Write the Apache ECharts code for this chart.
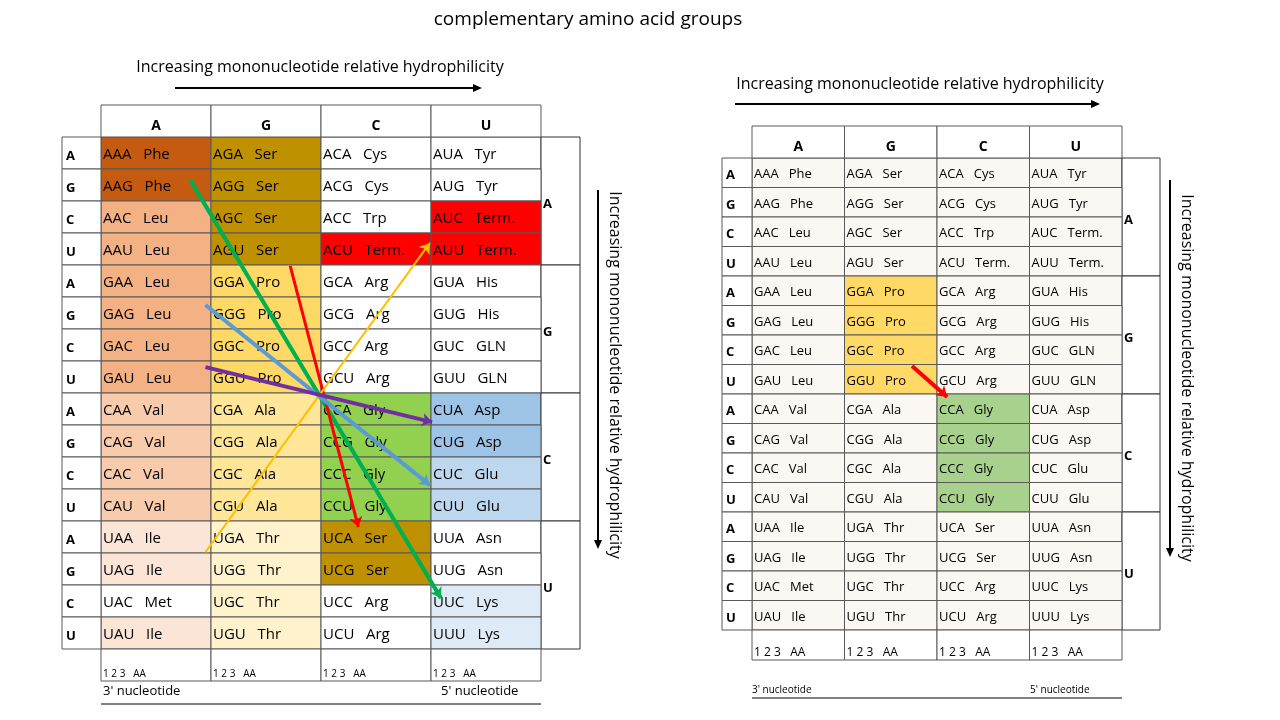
<!DOCTYPE html>
<html><head><meta charset="utf-8">
<script src="https://cdn.jsdelivr.net/npm/echarts@6/dist/echarts.min.js"></script>
<style>html,body{margin:0;background:#fff}#c{width:1280px;height:720px}</style>
</head><body><div id="c"></div>
<script>
const letters = ['A','G','C','U'];
const aminoAcids = [
  ['Phe','Phe','Leu','Leu','Leu','Leu','Leu','Leu','Val','Val','Val','Val','Ile','Ile','Met','Ile'],
  ['Ser','Ser','Ser','Ser','Pro','Pro','Pro','Pro','Ala','Ala','Ala','Ala','Thr','Thr','Thr','Thr'],
  ['Cys','Cys','Trp','Term.','Arg','Arg','Arg','Arg','Gly','Gly','Gly','Gly','Ser','Ser','Arg','Arg'],
  ['Tyr','Tyr','Term.','Term.','His','His','GLN','GLN','Asp','Asp','Glu','Glu','Asn','Asn','Lys','Lys']
];
const leftColors = [
  ['#C55A11','#C55A11','#F4B183','#F4B183','#F4B183','#F4B183','#F4B183','#F4B183','#F8CBAD','#F8CBAD','#F8CBAD','#F8CBAD','#FBE5D6','#FBE5D6','#FFFFFF','#FBE5D6'],
  ['#BF9000','#BF9000','#BF9000','#BF9000','#FFD966','#FFD966','#FFD966','#FFD966','#FFE699','#FFE699','#FFE699','#FFE699','#FFF2CC','#FFF2CC','#FFF2CC','#FFF2CC'],
  ['#FFFFFF','#FFFFFF','#FFFFFF','#FF0000','#FFFFFF','#FFFFFF','#FFFFFF','#FFFFFF','#92D050','#92D050','#92D050','#92D050','#BF9000','#BF9000','#FFFFFF','#FFFFFF'],
  ['#FFFFFF','#FFFFFF','#FF0000','#FF0000','#FFFFFF','#FFFFFF','#FFFFFF','#FFFFFF','#9DC3E6','#9DC3E6','#BDD7EE','#BDD7EE','#FFFFFF','#FFFFFF','#DEEBF7','#DEEBF7']
];
const rightBase = '#FBF7F3';
const rightHighlights = {'1,4':'#FFD966','1,5':'#FFD966','1,6':'#FFD966','1,7':'#FFD966','2,8':'#A9D18E','2,9':'#A9D18E','2,10':'#A9D18E','2,11':'#A9D18E'};
// arrows [x0,y0,x1,y1] in cell units (column, row)
const leftArrows = [
  {c:[[0.81,1.34],[3.09,14.41]], color:'#00B050', w:4},
  {c:[[1.72,4.03],[2.34,12.19]], color:'#FF0000', w:3},
  {c:[[0.95,12.97],[2.99,3.31]], color:'#FFC000', w:2},
  {c:[[0.95,5.25],[2.99,10.88]], color:'#5B9BD5', w:4},
  {c:[[0.95,7.19],[3.01,8.91]], color:'#7030A0', w:4}
];
const rightArrows = [ {c:[[1.73,7.05],[2.11,8.10]], color:'#FF0000', w:4} ];

const cells = [];
for (let c=0;c<4;c++) for (let r=0;r<16;r++) cells.push([c,r]);

function tableSeries(gi, colorFn, o) {
  return {
    type:'custom', xAxisIndex:gi, yAxisIndex:gi, clip:false, data:cells,
    renderItem:(params, api)=>{
      const c=api.value(0), r=api.value(1);
      const p0=api.coord([c,r]), p1=api.coord([c+1,r+1]);
      const w=p1[0]-p0[0], h=p1[1]-p0[1];
      const codon=letters[Math.floor(r/4)]+letters[c]+letters[r%4];
      const ch=[
        {type:'rect',shape:{x:p0[0],y:p0[1],width:w,height:h},style:{fill:colorFn(c,r),stroke:'#595959',lineWidth:1}},
        {type:'text',style:{x:p0[0]+2,y:p0[1]+h/2+2,text:codon+'   '+aminoAcids[c][r],fill:'#000',font:o.fs+'px "Open Sans"',verticalAlign:'middle'}}
      ];
      if (r===0) {
        ch.push({type:'rect',shape:{x:p0[0],y:p0[1]-o.hh,width:w,height:o.hh},style:{fill:'#fff',stroke:'#595959',lineWidth:1}});
        ch.push({type:'text',style:{x:p0[0]+w/2,y:p0[1]-o.hh/2+5,text:letters[c],fill:'#000',font:'bold 14px "Open Sans"',align:'center',verticalAlign:'middle'}});
      }
      if (r===15) {
        ch.push({type:'rect',shape:{x:p0[0],y:p1[1],width:w,height:o.fh},style:{fill:'#fff',stroke:'#595959',lineWidth:1}});
        ch.push({type:'text',style:{x:p0[0]+2,y:p1[1]+o.fh-7,text:'1 2 3   AA',fill:'#000',font:o.ff+'px "Open Sans"',verticalAlign:'middle'}});
      }
      if (c===0) {
        ch.push({type:'rect',shape:{x:p0[0]-o.sw,y:p0[1],width:o.sw,height:h},style:{fill:'#fff',stroke:'#595959',lineWidth:1}});
        ch.push({type:'text',style:{x:p0[0]-o.sw+4,y:p0[1]+h/2+3,text:letters[r%4],fill:'#000',font:'bold 13px "Open Sans"',verticalAlign:'middle'}});
      }
      if (c===3 && r%4===0) {
        const q=api.coord([4,r+4]);
        ch.push({type:'rect',shape:{x:p1[0],y:p0[1],width:o.rw,height:q[1]-p0[1]},style:{fill:'#fff',stroke:'#333',lineWidth:1}});
        ch.push({type:'text',style:{x:p1[0]+2,y:(p0[1]+q[1])/2+3,text:letters[r/4],fill:'#000',font:'bold 13px "Open Sans"',verticalAlign:'middle'}});
      }
      return {type:'group',children:ch};
    }
  };
}
function arrowSeries(gi, arr) {
  return {type:'lines', coordinateSystem:'cartesian2d', xAxisIndex:gi, yAxisIndex:gi, z:10,
    symbol:['none','arrow'], symbolSize:10,
    data:arr.map(a=>({coords:a.c, lineStyle:{color:a.color,width:a.w,opacity:1}}))};
}
const ax = (min,max,inv)=>({type:'value',min,max,inverse:inv,show:false});
const chart = echarts.init(document.getElementById('c'));
const T = (x,y,t,s,extra)=>Object.assign({type:'text',x,y,style:{text:t,font:s+'px "Open Sans"',fill:'#000',align:'center',verticalAlign:'middle'}},extra||{});
const L = (x1,y1,x2,y2,arrow)=>({type:'line',shape:{x1,y1,x2,y2},style:{stroke:'#000',lineWidth:arrow?2:1}});
const head = (x,y,dir)=>({type:'polygon',shape:{points: dir==='r'?[[x,y],[x-9,y-4],[x-9,y+4]]:[[x,y],[x-4,y-9],[x+4,y-9]]},style:{fill:'#000'}});
chart.setOption({
  animation:false,
  grid:[{left:101,top:137,width:440,height:512},{left:752,top:158,width:370,height:472}],
  xAxis:[ax(0,4,false),Object.assign(ax(0,4,false),{gridIndex:1})],
  yAxis:[ax(0,16,true),Object.assign(ax(0,16,true),{gridIndex:1})],
  series:[
    tableSeries(0,(c,r)=>leftColors[c][r],{fs:15,hh:32,fh:32,sw:39,rw:39,ff:10}),
    tableSeries(1,(c,r)=>rightHighlights[c+','+r]||rightBase,{fs:13,hh:32,fh:30,sw:30,rw:38,ff:12}),
    arrowSeries(0,leftArrows), arrowSeries(1,rightArrows)
  ],
  graphic:[
    T(588,20,'complementary amino acid groups',19),
    T(320,67,'Increasing mononucleotide relative hydrophilicity',16), L(175,88,478,88,1), head(482,88,'r'),
    T(920,84,'Increasing mononucleotide relative hydrophilicity',16), L(735,104,1096,104,1), head(1100,104,'r'),
    T(615,375,'Increasing mononucleotide relative hydrophilicity',16,{rotation:-Math.PI/2}), L(598,190,598,544,1), head(598,549,'d'),
    T(1187,378,'Increasing mononucleotide relative hydrophilicity',16,{rotation:-Math.PI/2}), L(1170,180,1170,552,1), head(1170,557,'d'),
    T(103,691,"3' nucleotide",13,{style:{text:"3' nucleotide",font:'13px "Open Sans"',align:'left',verticalAlign:'middle'}}),
    T(441,691,"5' nucleotide",13,{style:{text:"5' nucleotide",font:'13px "Open Sans"',align:'left',verticalAlign:'middle'}}),
    L(101,704,541,704),
    T(752,690,"3' nucleotide",10,{style:{text:"3' nucleotide",font:'10px "Open Sans"',align:'left',verticalAlign:'middle'}}),
    T(1030,690,"5' nucleotide",10,{style:{text:"5' nucleotide",font:'10px "Open Sans"',align:'left',verticalAlign:'middle'}}),
    L(752,698,1122,698)
  ]
});
</script></body></html>
